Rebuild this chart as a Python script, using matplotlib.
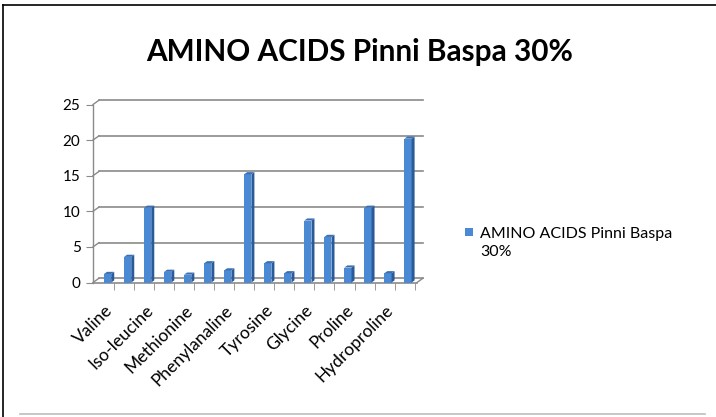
import matplotlib
matplotlib.use("Agg")
import matplotlib.pyplot as plt
from matplotlib.patches import Polygon, Rectangle
from matplotlib.lines import Line2D
from matplotlib.transforms import ScaledTranslation

# Amino acid content, Pinni Baspa 30%
series_name = "AMINO ACIDS Pinni Baspa 30%"
values = [1.2, 3.6, 10.5, 1.5, 1.1, 2.7, 1.7, 15.2,
          2.7, 1.3, 8.7, 6.4, 2.1, 10.5, 1.3, 20.2]
# every other category carries a visible label
shown_labels = ["Valine", "Iso-leucine", "Methionine", "Phenylanaline",
                "Tyrosine", "Glycine", "Proline", "Hydroproline"]
y_ticks = [0, 5, 10, 15, 20, 25]

FONT = ["Lato", "DejaVu Sans"]
FRONT = "#4a8ad4"
SIDE = "#2a5a98"
TOP = "#3a6fb3"
GRID = "#8a8a8a"

fig = plt.figure(figsize=(7.16, 4.17), dpi=100)
W, H = 716, 417
ax = fig.add_axes([93 / W, 1 - 282.5 / H, 324 / W, (282.5 - 104.5) / H])

n = len(values)
xmin, xmax = -0.73, n - 1 + 0.45
ax.set_xlim(xmin, xmax)
ax.set_ylim(0, 25)
for s in ax.spines.values():
    s.set_visible(False)

# depth offset of the back wall, in data units
dx, dy = 0.3, 0.6

# back-wall gridlines with short diagonals to the front axis
for v in y_ticks:
    ax.add_line(Line2D([xmin + dx, xmax + dx], [v + dy, v + dy], color=GRID,
                       lw=1.2, clip_on=False, zorder=1))
    ax.add_line(Line2D([xmin, xmin + dx], [v, v + dy], color=GRID,
                       lw=1.0, clip_on=False, zorder=1))
# front left edge and floor edge
ax.add_line(Line2D([xmin, xmin], [0, 25], color=GRID, lw=1.0, clip_on=False))
ax.add_line(Line2D([xmin, xmax], [0, 0], color=GRID, lw=1.2, clip_on=False))
ax.add_line(Line2D([xmax, xmax + dx], [0, dy], color=GRID, lw=1.0, clip_on=False))

# 3D-style columns: front face, right side and top
w = 0.36
bd, bdy = 0.15, 0.3
for i, v in enumerate(values):
    ax.add_patch(Rectangle((i - w / 2, 0), w, v, facecolor=FRONT,
                           edgecolor="none", zorder=3))
    ax.add_patch(Polygon([(i + w / 2, 0), (i + w / 2 + bd, bdy),
                          (i + w / 2 + bd, v + bdy), (i + w / 2, v)],
                         closed=True, facecolor=SIDE, edgecolor="none", zorder=3))
    ax.add_patch(Polygon([(i - w / 2, v), (i + w / 2, v),
                          (i + w / 2 + bd, v + bdy), (i - w / 2 + bd, v + bdy)],
                         closed=True, facecolor=TOP, edgecolor="none", zorder=3))

ax.set_yticks(y_ticks)
ax.set_yticklabels([str(t) for t in y_ticks], family=FONT, fontsize=11)
ax.tick_params(axis="y", length=5, color=GRID, pad=4)

ax.set_xticks(range(0, n, 2))
ax.set_xticklabels(shown_labels, family=FONT, fontsize=12.5, rotation=45,
                   ha="right", va="top", rotation_mode="anchor")
ax.tick_params(axis="x", which="major", length=0, pad=14)
shift = ScaledTranslation(-0.03, 0, fig.dpi_scale_trans)
for lbl in ax.get_xticklabels():
    lbl.set_transform(lbl.get_transform() + shift)
ax.set_xticks([i + 0.33 for i in range(n)], minor=True)
ax.tick_params(axis="x", which="minor", length=5, color=GRID)

fig.text(360 / W, 1 - 52 / H, series_name, family=FONT, fontweight="bold",
         fontsize=21.4, ha="center", va="center")

# legend
fig.patches.append(Rectangle((465 / W, 1 - 236 / H), 8 / W, 8 / H,
                             transform=fig.transFigure, facecolor=FRONT,
                             edgecolor="none"))
fig.text(480 / W, 1 - 243 / H, "AMINO ACIDS Pinni Baspa\n30%", family=FONT,
         fontsize=11.5, ha="left", va="center", linespacing=1.4)

# chart frame
fig.add_artist(Line2D([3 / W, 3 / W], [0, 1 - 5 / H], color="black", lw=1.2))
fig.add_artist(Line2D([3 / W, 1], [1 - 5 / H, 1 - 5 / H], color="black", lw=1.2))
fig.add_artist(Line2D([20 / W, 705 / W], [1 - 414 / H, 1 - 414 / H],
                      color="#bdbdbd", lw=1.2))

fig.savefig("out.png", dpi=100)
